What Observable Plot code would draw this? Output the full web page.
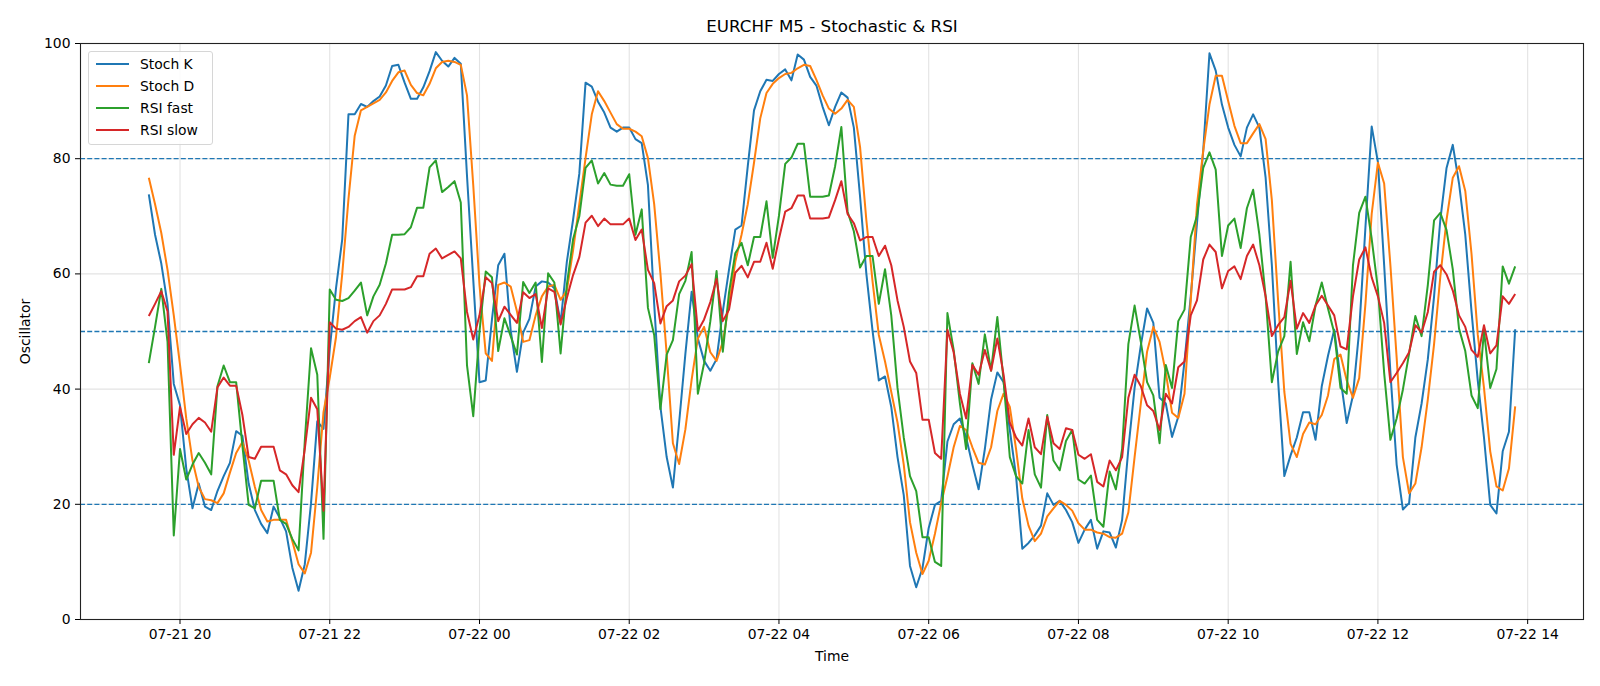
<!DOCTYPE html>
<html>
<head>
<meta charset="utf-8">
<script src="https://cdn.jsdelivr.net/npm/d3@7"></script>
<script src="https://cdn.jsdelivr.net/npm/@observablehq/plot@0.6"></script>
<style>
  html, body { margin: 0; padding: 0; background: #fff; }
  #wrap { position: relative; width: 1600px; height: 686px; font-family: "DejaVu Sans", sans-serif; }
  #legend { position: absolute; left: 88px; top: 51px; width: 123px; height: 92px;
    border: 1px solid #d6d6d6; border-radius: 3px; background: rgba(255,255,255,0.85); }
  .row { position: absolute; left: 0; height: 20px; width: 120px; }
  .sw { position: absolute; left: 7px; top: 9px; width: 33px; height: 2px; }
  .lb { position: absolute; left: 51px; top: 0; font-size: 13.9px; line-height: 20px; color: #000; white-space: nowrap; }
</style>
</head>
<body>
<div id="wrap"><div id="chart"></div><div id="legend"></div></div>
<script>
const title = "EURCHF M5 - Stochastic & RSI";
const seriesNames = ["Stoch K", "Stoch D", "RSI fast", "RSI slow"];
const seriesColors = ["#1f77b4", "#ff7f0e", "#2ca02c", "#d62728"];
const levels = [20, 50, 80];
const yTicks = [0, 20, 40, 60, 80, 100];
const startTime = Date.UTC(2025, 6, 21, 19, 35); // first 5-minute bar
const stepMinutes = 5;

const stochK = [73.8,66.8,61.8,54.8,40.9,37.2,26.2,19.3,23.6,19.6,19.0,22.3,24.9,27.2,32.7,31.9,23.6,19.0,16.6,15.0,
19.6,17.6,15.3,9.0,5.0,9.6,20.2,34.4,33.1,47.0,57.5,66.0,87.7,87.7,89.5,89.0,90.0,90.8,92.7,96.1,
96.3,93.2,90.4,90.4,92.4,95.2,98.5,97.0,96.0,97.5,96.5,77.0,59.0,41.2,41.5,52.1,61.5,63.5,50.2,43.0,
49.8,52.2,57.8,58.7,58.5,57.5,51.5,62.1,69.4,77.4,93.2,92.5,89.9,88.0,85.4,84.7,85.4,85.4,83.4,82.7,
75.4,54.8,36.9,28.2,22.9,34.2,46.1,56.9,48.8,44.9,43.2,45.2,53.5,60.8,67.7,68.4,78.7,88.4,91.7,93.7,
93.5,94.7,95.5,93.6,98.1,97.2,94.2,92.7,89.0,85.8,89.0,91.5,90.6,85.4,73.4,60.1,50.1,41.5,42.2,36.9,
28.2,21.6,9.3,5.6,8.9,15.9,19.9,20.6,30.9,33.9,34.9,31.6,26.9,22.6,29.6,38.2,42.9,41.2,32.9,24.9,
12.3,13.3,14.6,16.3,21.9,19.9,20.6,19.0,16.9,13.3,15.6,17.3,12.3,15.3,15.1,12.5,17.3,29.6,40.2,47.6,
54.0,51.5,38.5,37.5,31.7,35.2,44.8,56.1,68.8,81.4,98.3,95.3,89.4,85.4,82.4,80.4,85.4,87.7,85.4,76.7,
61.5,41.5,24.9,28.5,31.6,36.0,36.0,31.2,40.5,45.8,50.3,41.9,34.1,38.9,50.2,68.1,85.6,79.4,61.5,42.9,
26.9,19.1,20.2,31.6,37.5,45.2,56.1,69.4,78.4,82.4,75.7,66.8,53.5,41.5,31.6,19.9,18.4,29.2,32.6,50.4];

const stochD = [76.7,72.1,67.1,60.7,52.8,44.2,34.9,27.6,23.0,20.9,20.7,20.2,21.9,25.5,28.9,30.8,27.6,23.0,19.0,17.0,
17.3,17.3,17.3,13.6,9.6,8.0,11.6,23.0,36.0,42.0,49.0,60.0,73.0,84.0,88.4,89.0,89.6,90.2,91.5,93.5,
95.0,95.3,92.8,91.4,91.0,93.0,95.7,96.8,97.0,96.8,96.3,91.0,75.4,58.1,46.2,44.9,58.1,58.5,57.8,53.5,
48.2,48.5,52.8,56.1,57.8,58.1,55.5,57.1,64.1,72.1,80.1,87.7,91.7,90.0,88.0,86.0,85.2,85.2,84.7,83.9,
80.1,72.1,60.1,46.1,30.6,27.0,33.0,41.6,48.8,50.8,46.4,44.9,48.2,54.8,62.1,66.8,72.1,79.3,87.0,91.4,
93.0,94.0,94.7,94.9,95.7,96.3,96.1,93.7,91.0,88.7,87.8,88.7,90.2,89.0,82.0,69.4,58.7,49.4,44.8,39.5,
34.2,26.9,16.9,11.6,7.9,10.2,14.9,20.2,24.8,29.9,33.6,32.9,29.9,27.2,26.9,29.9,36.2,39.2,36.9,29.6,
21.0,16.3,13.6,14.9,17.9,19.3,20.6,19.9,18.9,16.7,15.6,15.6,15.1,14.9,14.3,14.2,14.9,18.6,28.2,37.5,
46.5,50.8,48.2,42.9,35.9,35.0,39.2,55.4,72.0,81.4,89.4,94.4,94.4,90.0,85.7,82.7,82.7,84.4,86.0,83.4,
72.8,55.4,39.5,30.5,28.2,32.2,34.2,33.9,35.5,38.9,45.2,46.0,41.5,38.5,41.9,54.8,70.4,79.3,75.7,61.5,
45.5,28.2,21.9,23.6,29.9,38.2,47.8,59.5,69.4,76.7,78.7,74.4,63.5,49.5,40.2,29.2,23.1,22.4,26.2,37.0];

const rsiFast = [44.5,50.8,57.4,48.2,14.6,29.6,24.3,26.9,28.9,27.2,25.2,40.5,44.1,41.2,41.2,30.2,19.9,19.3,24.1,24.1,
24.1,17.3,16.6,14.0,12.0,31.0,47.1,42.5,14.0,57.3,55.5,55.3,55.8,57.1,58.5,52.8,56.1,58.1,61.8,66.8,
66.8,66.9,68.1,71.5,71.5,78.5,79.7,74.2,75.1,76.1,72.4,44.1,35.3,50.0,60.4,59.4,46.6,52.3,49.2,46.0,
58.6,56.7,58.5,44.7,60.1,58.5,46.2,58.1,66.0,70.0,78.4,79.7,75.7,77.5,75.5,75.3,75.3,77.3,66.8,71.2,
54.1,49.4,36.5,46.0,48.5,56.5,58.8,63.8,39.2,44.5,51.8,60.5,46.5,56.8,63.6,65.4,61.5,66.4,66.4,72.6,
62.8,70.1,79.1,80.2,82.6,82.6,73.4,73.4,73.4,73.6,78.7,85.5,70.8,67.4,61.1,63.1,63.1,54.8,60.8,52.8,
40.2,31.6,24.9,22.3,14.3,14.3,10.0,9.3,53.2,46.8,37.5,29.6,44.5,40.9,49.5,43.2,52.5,41.5,28.2,24.9,
23.6,32.9,25.2,22.9,35.5,27.6,25.9,31.0,32.9,24.3,23.6,25.0,17.3,16.1,25.7,22.6,29.6,47.8,54.5,48.2,
41.2,38.9,30.6,44.2,40.2,51.8,53.8,66.4,70.1,78.4,81.1,78.1,63.1,68.4,69.6,64.5,71.4,74.6,66.8,56.1,
41.2,46.5,49.2,62.1,46.1,51.6,48.3,54.5,58.5,54.0,49.8,40.2,39.2,61.5,70.6,73.4,66.1,57.4,42.8,31.2,
34.9,39.9,46.2,52.7,49.2,58.1,69.3,70.6,67.6,60.8,50.5,46.6,38.9,36.7,50.2,40.2,43.5,61.3,58.3,61.3];

const rsiSlow = [52.7,54.8,57.0,53.5,28.6,36.9,32.2,33.9,35.0,34.2,32.6,40.3,42.0,40.6,40.6,35.5,28.2,27.9,30.0,30.0,
30.0,25.9,25.2,23.3,22.1,29.6,38.5,36.5,18.9,51.6,50.5,50.3,50.8,51.8,52.5,49.8,51.8,52.8,54.8,57.3,
57.3,57.3,57.7,59.6,59.6,63.5,64.4,62.7,63.3,63.9,62.7,53.4,48.6,52.8,59.4,58.4,51.8,54.3,52.9,51.5,
56.8,55.8,56.5,50.6,57.5,56.9,51.2,55.8,59.8,62.9,68.9,70.1,68.3,69.6,68.6,68.6,68.6,69.6,65.9,67.7,
60.7,58.4,51.4,54.4,55.4,58.7,59.7,61.7,50.1,52.1,55.1,59.1,51.8,53.8,60.2,61.4,59.4,62.1,62.1,65.4,
60.9,66.1,70.8,71.4,73.6,73.6,69.6,69.6,69.6,69.8,72.8,76.1,70.4,68.8,65.8,66.4,66.4,63.1,64.9,61.5,
55.4,50.8,44.8,42.8,34.7,34.7,28.9,27.9,50.3,46.4,39.2,34.9,44.2,42.5,46.8,43.2,48.8,42.5,34.2,31.6,
30.2,34.9,29.9,28.7,35.2,30.6,29.6,33.2,32.9,28.6,27.9,28.7,23.9,23.1,27.6,25.9,28.2,38.5,42.5,40.5,
37.2,36.2,32.9,39.2,37.5,43.8,44.8,52.8,55.4,62.5,65.1,63.8,57.5,60.5,61.3,59.1,63.1,65.1,61.5,56.1,
49.2,51.1,52.5,58.8,50.5,53.2,51.5,54.5,56.2,54.5,52.8,47.4,46.9,56.1,62.5,64.6,59.4,56.1,51.5,41.2,
42.8,44.5,46.4,51.1,49.8,53.4,60.4,61.5,59.9,57.1,52.8,50.8,46.8,45.6,51.1,46.2,47.6,56.1,54.8,56.5];

// ---- build table ----
const times = stochK.map((_, i) => new Date(startTime + i * stepMinutes * 60000));
const seriesValues = [stochK, stochD, rsiFast, rsiSlow];
const rows = [];
seriesValues.forEach((vals, s) => vals.forEach((v, i) => rows.push({t: times[i], v, s: seriesNames[s]})));

const t0 = times[0], t1 = times[times.length - 1];
const pad = (t1 - t0) * 0.05;
const xDomain = [new Date(+t0 - pad), new Date(+t1 + pad)];
const xTicks = d3.utcHour.every(2).range(xDomain[0], xDomain[1]);
const fmt = d3.utcFormat("%m-%d %H");

const chart = Plot.plot({
  width: 1600,
  height: 686,
  marginLeft: 80,
  marginRight: 17,
  marginTop: 43,
  marginBottom: 67,
  style: {fontFamily: "DejaVu Sans, sans-serif", fontSize: "13.9px", background: "#fff", overflow: "visible"},
  x: {type: "utc", domain: xDomain, label: null},
  y: {domain: [0, 100], label: null},
  color: {domain: seriesNames, range: seriesColors},
  marks: [
    Plot.gridX(xTicks, {stroke: "#e3e3e3", strokeOpacity: 1, strokeWidth: 1.1}),
    Plot.gridY(yTicks, {stroke: "#e3e3e3", strokeOpacity: 1, strokeWidth: 1.1}),
    Plot.ruleY(levels, {stroke: "#1f77b4", strokeWidth: 1.3, strokeDasharray: "5,2.2"}),
    Plot.line(rows, {x: "t", y: "v", z: "s", stroke: "s", strokeWidth: 2, strokeLinejoin: "round", strokeLinecap: "butt"}),
    Plot.frame({stroke: "#222", strokeWidth: 1.1}),
    Plot.axisX({ticks: xTicks, tickFormat: fmt, tickSize: 5, tickPadding: 5, label: null, fill: "#000", stroke: "#000"}),
    Plot.axisY({ticks: yTicks, tickSize: 5, tickPadding: 5, label: null, fill: "#000", stroke: "#000"}),
    Plot.text([title], {text: d => d, frameAnchor: "top", lineAnchor: "middle", dy: -17, fontSize: 16.7, fill: "#000"}),
    Plot.text(["Time"], {text: d => d, frameAnchor: "bottom", lineAnchor: "middle", dy: 37, fontSize: 13.9, fill: "#000"}),
    Plot.text(["Oscillator"], {text: d => d, frameAnchor: "left", textAnchor: "middle", lineAnchor: "middle", dx: -55, rotate: -90, fontSize: 13.9, fill: "#000"})
  ]
});
document.getElementById("chart").appendChild(chart);

// ---- legend ----
const legend = document.getElementById("legend");
seriesNames.forEach((name, i) => {
  const row = document.createElement("div");
  row.className = "row";
  row.style.top = (2 + i * 22) + "px";
  const sw = document.createElement("div");
  sw.className = "sw";
  sw.style.background = seriesColors[i];
  const lb = document.createElement("div");
  lb.className = "lb";
  lb.textContent = name;
  row.appendChild(sw); row.appendChild(lb);
  legend.appendChild(row);
});
</script>
</body>
</html>
